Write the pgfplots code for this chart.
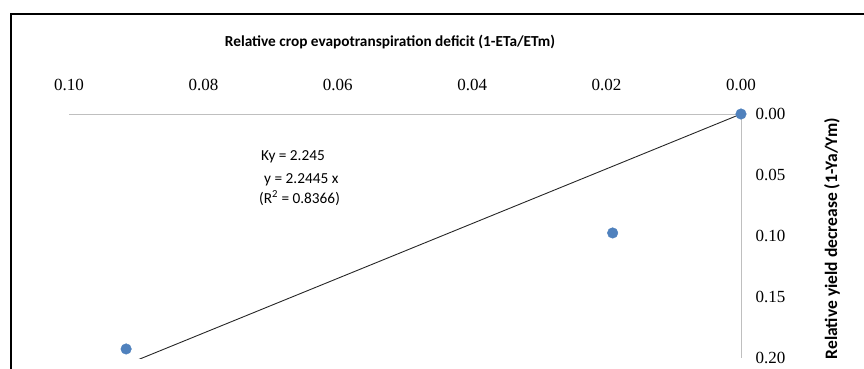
\documentclass[border=0pt]{standalone}
\usepackage{fontspec}
\setmainfont{Carlito}
\newfontfamily\tickfont{Liberation Serif}
\usepackage{pgfplots}
\pgfplotsset{compat=1.18}
\definecolor{ptblue}{HTML}{4F81BD}
\definecolor{axgray}{HTML}{BFBFBF}
\begin{document}
\begin{tikzpicture}
\useasboundingbox (-69pt,-10pt) rectangle (795pt,358pt);
\clip (-69pt,-10pt) rectangle (795pt,358pt);
\draw[black, line width=1.1pt] (-58pt,-30pt) -- (-58pt,344pt) -- (830pt,344pt);
\begin{axis}[
  at={(0pt,0pt)}, anchor=south west,
  scale only axis, width=672pt, height=244pt,
  xmin=0, xmax=0.10, ymin=0, ymax=0.20,
  x dir=reverse, y dir=reverse,
  axis x line*=top, axis y line*=right,
  axis line style={axgray, line width=0.8pt},
  xtick={0,0.02,0.04,0.06,0.08,0.10},
  ytick={0,0.05,0.10,0.15,0.20},
  major tick length=0pt,
  xticklabel style={font=\fontsize{17}{20}\tickfont, /pgf/number format/.cd, fixed, fixed zerofill, precision=2, assume math mode=true},
  yticklabel style={font=\fontsize{17}{20}\tickfont, /pgf/number format/.cd, fixed, fixed zerofill, precision=2, assume math mode=true},
  xticklabel shift=20pt,
  yticklabel shift=11pt,
  clip=true,
]
\addplot[black!85, line width=0.9pt] coordinates {(0,0) (0.0915,0.2054)};
\addplot[only marks, mark=*, mark size=5.3pt, mark options={fill=ptblue, draw=ptblue}] coordinates {
(0,0) (0.0191,0.0975) (0.0915,0.1926)};
\end{axis}
\node[font=\fontsize{15.3}{18}\bfseries\selectfont] at (321pt,316pt) {Relative crop evapotranspiration deficit (1-ETa/ETm)};
\node[font=\fontsize{17.5}{20}\bfseries\selectfont, rotate=90, anchor=east, inner sep=0pt] at (763pt,240pt) {Relative yield decrease (1-Ya/Ym)};
\node[font=\fontsize{15.3}{18}\selectfont, anchor=base west, inner sep=0pt] at (192pt,198pt) {Ky = 2.245};
\node[font=\fontsize{15.3}{18}\selectfont, anchor=base west, inner sep=0pt] at (195pt,175pt) {y = 2.2445 x};
\node[font=\fontsize{15.3}{18}\selectfont, anchor=base west, inner sep=0pt] at (190pt,155pt) {(R\textsuperscript{2} = 0.8366)};
\end{tikzpicture}
\end{document}
